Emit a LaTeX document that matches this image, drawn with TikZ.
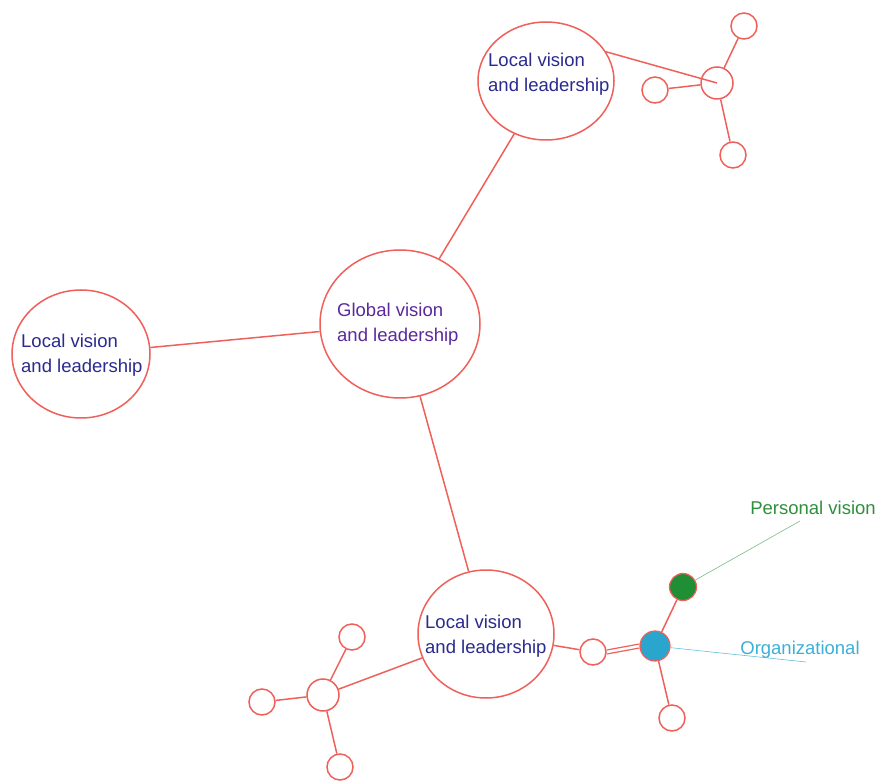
\documentclass[tikz,border=0pt]{standalone}
\usepackage{fontspec}
\setmainfont{Liberation Sans}
\usetikzlibrary{shapes.geometric}
\pgfdeclarelayer{bg}
\pgfsetlayers{bg,main}
\definecolor{lred}{HTML}{F0605A}
\definecolor{tblue}{HTML}{2B2A8E}
\definecolor{tpurp}{HTML}{5A2A9C}
\definecolor{pgreen}{HTML}{1F8E34}
\definecolor{tgreen}{HTML}{2E8F3C}
\definecolor{pblue}{HTML}{2AA6CE}
\definecolor{tcyan}{HTML}{3BB0D8}
\tikzset{
  big/.style={ellipse, draw=lred, line width=1.5pt, fill=white, inner sep=0pt},
  bigtext/.style={align=left, inner sep=0pt, font=\fontsize{18.5}{25}\selectfont},
  small/.style={circle, draw=lred, line width=1.5pt, fill=white, inner sep=0pt, minimum size=26pt},
  hub/.style={circle, draw=lred, line width=1.5pt, fill=white, inner sep=0pt, minimum size=32pt},
  link/.style={draw=lred, line width=1.5pt},
  lab/.style={font=\fontsize{18.5}{25}\selectfont, inner sep=0pt}
}
\begin{document}
\begin{tikzpicture}[x=1pt,y=-1pt]
\useasboundingbox (0,0) rectangle (881,783);
% big circles
\node[big, minimum width=160pt, minimum height=148pt] (glob) at (400,324) {};
\node[bigtext, text=tpurp, anchor=west] (globt) at (337,324) {Global vision\\and leadership};
\node[big, minimum width=136pt, minimum height=118pt] (ltop) at (546,81) {};
\node[bigtext, text=tblue, anchor=west] (ltopt) at (488,74) {Local vision\\and leadership};
\node[big, minimum width=138pt, minimum height=128pt] (lleft) at (81,354) {};
\node[bigtext, text=tblue, anchor=west] (lleftt) at (21,355) {Local vision\\and leadership};
\node[big, minimum width=136pt, minimum height=128pt] (lbot) at (486,634) {};
\node[bigtext, text=tblue, anchor=west] (lbott) at (425,636) {Local vision\\and leadership};

% top cluster
\node[hub, fill=none] (th) at (717,83) {};
\node[small] (tu) at (744,26) {};
\node[small] (tl) at (655,90) {};
\node[small] (td) at (733,155) {};
% bottom-left cluster
\node[hub] (bh) at (323,695) {};
\node[small] (bu) at (352,637) {};
\node[small] (bl) at (262,702) {};
\node[small] (bd) at (340,767) {};
% bottom-right cluster
\node[small] (rw) at (593,652) {};
\node[circle, draw=lred, line width=1.2pt, fill=pblue, inner sep=0pt, minimum size=30pt] (rb) at (655,646) {};
\node[circle, draw=lred, line width=1.2pt, fill=pgreen, inner sep=0pt, minimum size=27pt] (rg) at (683,587) {};
\node[small] (rd) at (672,718) {};

\node[lab, text=tgreen] (pv) at (813,508) {Personal vision};
\node[lab, text=tcyan] (org) at (800,650) {Organizational};
\coordinate (pvend) at (800,521);
\coordinate (orgend) at (806,662);

\begin{pgfonlayer}{bg}
\path[link] (glob) -- (ltop);
\path[link] (glob) -- (lleft);
\path[link] (glob) -- (lbot);
\path[link] (ltop.26) -- (th.center);
\path[link] (th) -- (tu);
\path[link] (th) -- (tl);
\path[link] (th) -- (td);
\path[link] (bh) -- (lbot);
\path[link] (bh) -- (bu);
\path[link] (bh) -- (bl);
\path[link] (bh) -- (bd);
\path[link] (lbot) -- (rw);
\path[link, line width=1.2pt] ([yshift=-2pt]rw.east) -- ([yshift=-2pt]rb.west);
\path[link, line width=1.2pt] ([yshift=2pt]rw.east) -- ([yshift=2pt]rb.west);
\path[link] (rb) -- (rg);
\path[link] (rb) -- (rd);
\draw[pgreen!60, line width=0.6pt] (rg) -- (pvend);
\draw[tcyan!80, line width=0.6pt] (rb) -- (orgend);
\end{pgfonlayer}
\end{tikzpicture}
\end{document}
